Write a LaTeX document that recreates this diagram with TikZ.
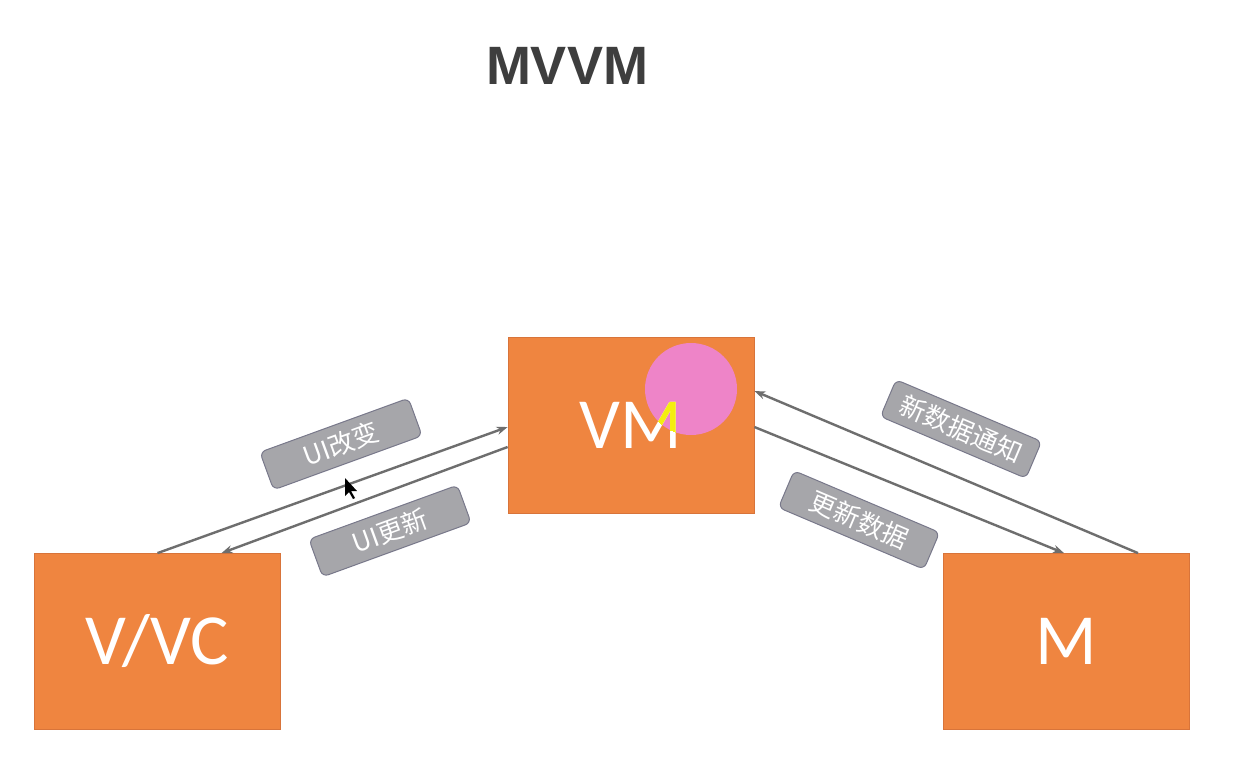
\documentclass[tikz,border=0pt]{standalone}
\usepackage{fontspec}
\setmainfont{Liberation Sans}
\newfontfamily\cjk{Noto Sans CJK SC}
\newfontfamily\boxfont{Carlito}
\usetikzlibrary{arrows.meta,calc}
\definecolor{boxorange}{HTML}{EF8540}
\definecolor{boxedge}{HTML}{D8743A}
\definecolor{tagfill}{HTML}{A6A6AA}
\definecolor{tagedge}{HTML}{78788A}
\definecolor{linkgray}{HTML}{6E6E6E}
\definecolor{titlegray}{HTML}{3E3E3E}
\definecolor{spot}{HTML}{EE84C8}
\definecolor{spotyellow}{HTML}{F4EE10}
\tikzset{
  block/.style={rectangle, fill=boxorange, draw=boxedge, line width=0.8pt,
    minimum width=246pt, minimum height=176pt, inner sep=0pt,
    text=white, font=\boxfont\fontsize{72}{72}\selectfont},
  tag/.style={rectangle, rounded corners=6pt, fill=tagfill, draw=tagedge, line width=1pt,
    minimum width=158pt, minimum height=40pt, inner sep=0pt,
    text=white, font=\cjk\fontsize{26}{26}\selectfont},
  link/.style={draw=linkgray, line width=2.4pt, -{Stealth[length=11pt,width=8pt]}}
}
\begin{document}
\begin{tikzpicture}[x=1pt,y=-1pt]
\useasboundingbox (0,0) rectangle (1246,774);
\fill[white] (0,0) rectangle (1246,774);

\node[text=titlegray, font=\bfseries\fontsize{54}{54}\selectfont] (title) at (567,66) {MVVM};

\node[block] (vm) at (631,425) {};
\node[block] (vvc) at (157.5,641.5) {V/VC};
\node[block] (m) at (1066,641.5) {M};

% highlight spot and VM label
\fill[spot] (691,389) circle[radius=46pt];
\node[text=white, font=\boxfont\fontsize{72}{72}\selectfont, inner sep=0pt] (vmtext) at (vm.center) {VM};
\begin{scope}
  \clip (691,389) circle[radius=46pt];
  \node[text=spotyellow, font=\boxfont\fontsize{72}{72}\selectfont, inner sep=0pt] (vmtexty) at (vm.center) {VM};
\end{scope}

% connectors
\draw[link] (vvc.north) -- ([yshift=-2pt]vm.west);
\draw[link] ([yshift=-22pt]vm.west) -- ([xshift=64pt]vvc.north);
\draw[link] ([xshift=72pt]m.north) -- ([yshift=34pt]vm.east);
\draw[link] ([yshift=-2pt]vm.east) -- ([xshift=-2pt]m.north);

% labels
\node[tag, rotate=20] (t1) at (341,444) {UI改变};
\node[tag, rotate=20] (t2) at (390,531) {UI更新};
\node[tag, rotate=-23] (t3) at (961,429) {新数据通知};
\node[tag, rotate=-23] (t4) at (859,520) {更新数据};

% mouse pointer
\fill[black] (345,478) -- (345,496) -- (349,492) -- (353,499) -- (355,498) -- (351,491) -- (357,491) -- cycle;
\end{tikzpicture}
\end{document}
